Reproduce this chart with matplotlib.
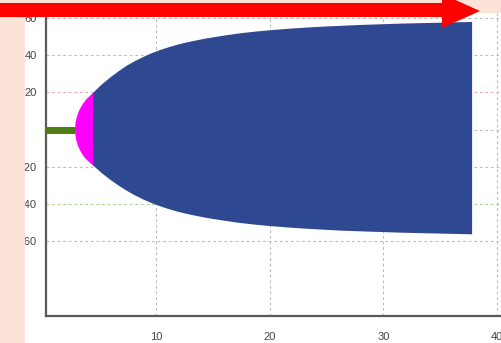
import matplotlib
matplotlib.use("Agg")
import matplotlib.pyplot as plt
from matplotlib.patches import Rectangle, Polygon

# Steady branch before the bifurcation point
stem_x = [0.0, 2.88]
stem_y = [0.0, 0.0]

# Envelope of the oscillation amplitude after the bifurcation
env_x = [2.88, 2.92, 3.0, 3.15, 3.32, 3.6, 3.9, 4.2, 4.46, 5.2, 5.95, 6.7, 7.42, 8.15,
         8.88, 9.6, 10.35, 11.1, 11.82, 12.55, 13.3, 14.46, 15.9, 17.39, 18.86,
         20.3, 21.78, 23.25, 24.7, 26.18, 28.0, 31.5, 35.0, 37.8]
env_upper = [0.0, 3.6, 6.0, 8.9, 11.2, 14.0, 16.4, 18.2, 19.6, 24.0, 27.8, 31.2, 34.2, 36.7,
             38.9, 40.9, 42.6, 44.1, 45.4, 46.5, 47.5, 48.9, 50.3, 51.6, 52.6,
             53.4, 54.1, 54.7, 55.2, 55.6, 56.1, 56.8, 57.3, 57.7]
env_lower = [0.0, -3.6, -6.0, -8.9, -11.2, -14.0, -16.2, -17.9, -19.2, -23.2, -26.8, -30.0, -32.8, -35.3,
             -37.5, -39.4, -41.1, -42.6, -43.9, -45.0, -46.0, -47.4, -48.8, -50.1, -51.1,
             -51.9, -52.6, -53.2, -53.7, -54.2, -54.6, -55.3, -55.8, -56.2]
onset_end = 4.46  # transition from the onset region to the developed region

x_ticks = [10, 20, 30, 40]
x_tick_labels = ["10", "20", "30", "40"]
y_ticks = [-60, -40, -20, 0, 20, 40, 60]
y_tick_labels = ["-60", "-40", "-20", "", "20", "40", "60"]

W, H = 502, 343
fig = plt.figure(figsize=(W / 100, H / 100), dpi=100)
fig.patch.set_facecolor("#fbe4d7")

# white panel behind the plot
fig.patches.append(Rectangle((25 / W, 0), 1 - 25 / W, 1 - 13 / H,
                             transform=fig.transFigure, facecolor="white",
                             edgecolor="none", zorder=-1))

ax = fig.add_axes([46 / W, 1 - 316 / H, (W - 46) / W, (316 - 13) / H])
ax.set_facecolor("white")
ax.set_xlim(0.325, 40.43)
ax.set_ylim(-100, 62.5)

ax.set_xticks(x_ticks)
ax.set_xticklabels(x_tick_labels)
ax.set_yticks(y_ticks)
ax.set_yticklabels(y_tick_labels)
for lab in ax.get_xticklabels() + ax.get_yticklabels():
    lab.set_fontfamily("Liberation Sans")
    lab.set_fontsize(8)
    lab.set_color("#444444")
ax.tick_params(axis="both", length=0)
ax.tick_params(axis="y", pad=6.5)
ax.tick_params(axis="x", pad=11.5)

ax.set_axisbelow(True)
ax.grid(True, linestyle=(0, (2.5, 2.5)), linewidth=0.8, color="#bbbbbb")
grid_colors = {-60: "#bbbbbb", -40: "#a9d48f", -20: "#e8a9b0", 0: "#bbbbbb",
               20: "#e8a9b0", 40: "#a9d48f", 60: "#bbbbbb"}
for val, gl in zip(y_ticks, ax.get_ygridlines()):
    gl.set_color(grid_colors[val])

for side in ("top", "right"):
    ax.spines[side].set_visible(False)
for side in ("left", "bottom"):
    ax.spines[side].set_color("#5a5a5a")
    ax.spines[side].set_linewidth(1.6)

# onset (magenta) and developed (blue) amplitude regions
n_onset = env_x.index(onset_end) + 1
ax.fill_between(env_x[:n_onset], env_lower[:n_onset], env_upper[:n_onset],
                facecolor="#ff00ff", edgecolor="none", zorder=2)
ax.fill_between(env_x[n_onset - 1:], env_lower[n_onset - 1:], env_upper[n_onset - 1:],
                facecolor="#2e4891", edgecolor="none", zorder=2)

ax.plot(stem_x, stem_y, color="#4f7d15", linewidth=5, solid_capstyle="butt", zorder=3)

# peach margin on the left, covering the label overhang
fig.patches.append(Rectangle((0, 0), 25 / W, 1, transform=fig.transFigure,
                             facecolor="#fbe4d7", edgecolor="none", zorder=5))

# red arrow across the top
arrow_px = [(0, 3), (442, 3), (442, -6), (480, 11), (442, 28), (442, 17), (0, 17)]
arrow_pts = [(px / W, 1 - py / H) for px, py in arrow_px]
fig.patches.append(Polygon(arrow_pts, closed=True, transform=fig.transFigure,
                           facecolor="#ff0000", edgecolor="none", zorder=10))

fig.savefig("out.png", dpi=100, facecolor=fig.get_facecolor())
